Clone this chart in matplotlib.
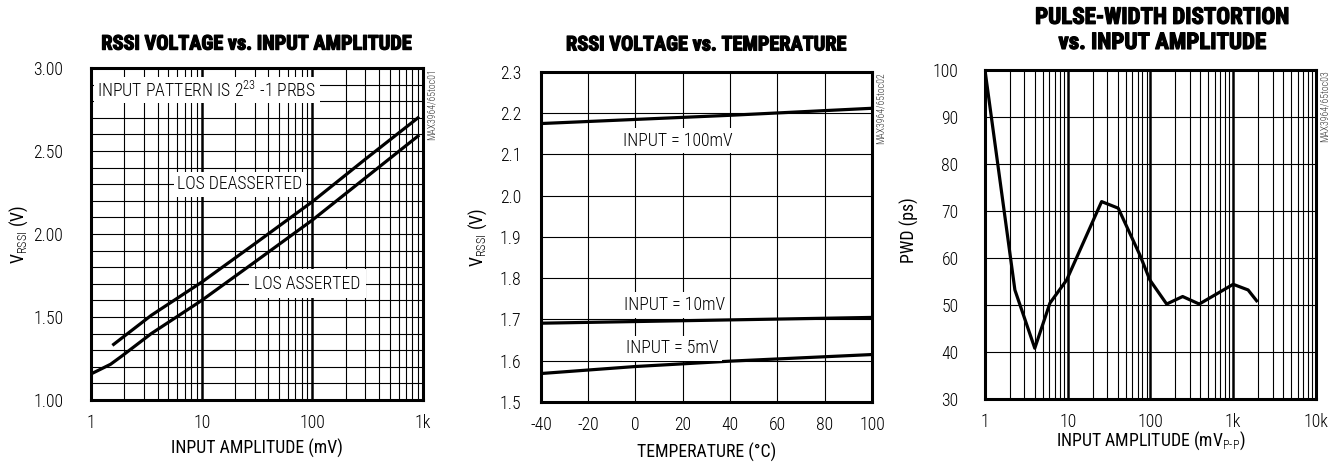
import numpy as np
import matplotlib
matplotlib.use("Agg")
import matplotlib.pyplot as plt
import matplotlib.patheffects as pe
from matplotlib.ticker import LogLocator, MultipleLocator, NullFormatter

plt.rcParams['font.family'] = ['Roboto Condensed', 'Liberation Sans', 'DejaVu Sans']
plt.rcParams['font.weight'] = 'light'
plt.rcParams['mathtext.fontset'] = 'custom'
plt.rcParams['mathtext.rm'] = 'Roboto Condensed:weight=light'
plt.rcParams['mathtext.it'] = 'Roboto Condensed:weight=light'
plt.rcParams['mathtext.bf'] = 'Roboto Condensed:bold'

# panel 1: RSSI voltage vs input amplitude
amp_deassert = [1.6, 3.5, 10, 30, 100, 300, 900]
v_deassert = [1.335, 1.51, 1.71, 1.94, 2.195, 2.45, 2.70]
amp_assert = [1.05, 1.5, 1.9, 3.5, 10, 30, 100, 300, 900]
v_assert = [1.164, 1.215, 1.265, 1.40, 1.60, 1.83, 2.084, 2.337, 2.59]

# panel 2: RSSI voltage vs temperature
temp = [-40, 0, 40, 100]
v_100mv = [2.175, 2.185, 2.195, 2.212]
v_10mv = [1.691, 1.695, 1.699, 1.705]
v_5mv = [1.569, 1.586, 1.599, 1.615]

# panel 3: PWD vs input amplitude
amp_pwd = [1, 2.3, 4.0, 6.1, 9.7, 25.7, 40.8, 74.7, 98.6, 157, 245, 389, 1000, 1515, 1920]
pwd = [100, 53.2, 40.8, 50.4, 55.3, 72.0, 70.6, 60.6, 55.3, 50.2, 51.8, 50.2, 54.4, 53.2, 50.9]

FS = 12.8
TFS = 14.6
fig = plt.figure(figsize=(13.35, 4.62), dpi=100)

ax1 = fig.add_axes([0.0682, 0.1342, 0.2487, 0.7186])
ax2 = fig.add_axes([0.4052, 0.1299, 0.2479, 0.7143])
ax3 = fig.add_axes([0.7378, 0.1364, 0.2479, 0.7121])


def style(ax):
    for s in ax.spines.values():
        s.set_linewidth(2.2)
        s.set_zorder(5)
    ax.tick_params(which='both', length=0, labelsize=FS)
    ax.tick_params(axis='x', pad=10)
    ax.set_axisbelow(True)


def logx_grid(ax):
    ax.xaxis.set_minor_locator(LogLocator(base=10, subs=range(2, 10)))
    ax.xaxis.set_minor_formatter(NullFormatter())
    ax.xaxis.grid(True, which='minor', color='black', lw=0.8)
    ax.xaxis.grid(True, which='major', color='black', lw=1.8)


def box(ax, x, y, s, pad=2.5):
    ax.text(x, y, s, fontsize=FS, ha='center', va='center', zorder=4,
            bbox=dict(facecolor='white', edgecolor='none', pad=pad))


def mark(ax, s, x):
    ax.text(x, 1.0, s, transform=ax.transAxes, rotation=90, fontsize=7,
            ha='left', va='top', color='#333333')


def title(ax, x, y, s, size=TFS):
    ax.text(x, y, s, transform=ax.transAxes, ha='center', va='center',
            fontsize=size, fontweight='bold', linespacing=1.12,
            path_effects=[pe.withStroke(linewidth=0.9, foreground='black')])


# ---- panel 1
ax1.set_xscale('log')
ax1.plot(amp_deassert, v_deassert, color='black', lw=2.3, zorder=3)
ax1.plot(amp_assert, v_assert, color='black', lw=2.3, zorder=3)
ax1.set_xlim(1, 1000)
ax1.set_ylim(1.0, 3.0)
ax1.set_xticks([1, 10, 100, 1000], ['1', '10', '100', '1k'])
ax1.set_yticks([1.0, 1.5, 2.0, 2.5, 3.0], ['1.00', '1.50', '2.00', '2.50', '3.00'])
ax1.yaxis.set_minor_locator(MultipleLocator(0.1))
logx_grid(ax1)
ax1.yaxis.grid(True, which='both', color='black', lw=0.8)
style(ax1)
ax1.tick_params(axis='y', pad=20)
box(ax1, 11.1, 2.867, r'INPUT PATTERN IS 2$^{23}$ -1 PRBS')
box(ax1, 22.2, 2.30, 'LOS DEASSERTED')
box(ax1, 89.9, 1.699, 'LOS ASSERTED', pad=4)
ax1.set_xlabel('INPUT AMPLITUDE (mV)', fontsize=FS, va='center')
ax1.xaxis.set_label_coords(0.5, -0.145)
ax1.set_ylabel(r'V$_{\mathrm{RSSI}}$ (V)', fontsize=FS, va='center')
ax1.yaxis.set_label_coords(-0.217, 0.5)
title(ax1, 0.496, 1.072, 'RSSI VOLTAGE vs. INPUT AMPLITUDE')
mark(ax1, 'MAX3964/65toc01', 1.012)

# ---- panel 2
ax2.plot(temp, v_100mv, color='black', lw=2.3, zorder=3)
ax2.plot(temp, v_10mv, color='black', lw=2.3, zorder=3)
ax2.plot(temp, v_5mv, color='black', lw=2.3, zorder=3)
ax2.set_xlim(-40, 100)
ax2.set_ylim(1.5, 2.3)
ax2.set_xticks(np.arange(-40, 101, 20), ['-40', '-20', '0', '20', '40', '60', '80', '100'])
ax2.set_yticks(np.arange(1.5, 2.31, 0.1), ['1.5', '1.6', '1.7', '1.8', '1.9', '2.0', '2.1', '2.2', '2.3'])
ax2.grid(True, color='black', lw=0.8)
style(ax2)
ax2.tick_params(axis='y', pad=14)
box(ax2, 17.8, 2.133, 'INPUT = 100mV')
box(ax2, 16.5, 1.735, 'INPUT = 10mV')
box(ax2, 15.4, 1.630, 'INPUT = 5mV')
ax2.set_xlabel('TEMPERATURE (°C)', fontsize=FS, va='center')
ax2.xaxis.set_label_coords(0.5, -0.152)
ax2.set_ylabel(r'V$_{\mathrm{RSSI}}$ (V)', fontsize=FS, va='center')
ax2.yaxis.set_label_coords(-0.19, 0.5)
title(ax2, 0.498, 1.082, 'RSSI VOLTAGE vs. TEMPERATURE')
mark(ax2, 'MAX3964/65toc02', 1.012)

# ---- panel 3
ax3.set_xscale('log')
ax3.plot(amp_pwd, pwd, color='black', lw=2.3, zorder=3)
ax3.set_xlim(1, 10000)
ax3.set_ylim(30, 100)
ax3.set_xticks([1, 10, 100, 1000, 10000], ['1', '10', '100', '1k', '10k'])
ax3.set_yticks(np.arange(30, 101, 10))
logx_grid(ax3)
ax3.yaxis.grid(True, color='black', lw=0.8)
style(ax3)
ax3.tick_params(axis='y', pad=19)
ax3.set_xlabel(r'INPUT AMPLITUDE (mV$_{\mathrm{P}\text{-}\mathrm{P}}$)', fontsize=FS, va='center')
ax3.xaxis.set_label_coords(0.5, -0.128)
ax3.set_ylabel('PWD (ps)', fontsize=FS, va='center')
ax3.yaxis.set_label_coords(-0.227, 0.514)
title(ax3, 0.535, 1.122, 'PULSE-WIDTH DISTORTION\nvs. INPUT AMPLITUDE', size=16.5)
mark(ax3, 'MAX3964/65toc03', 1.012)

fig.savefig('out.png', dpi=100)
